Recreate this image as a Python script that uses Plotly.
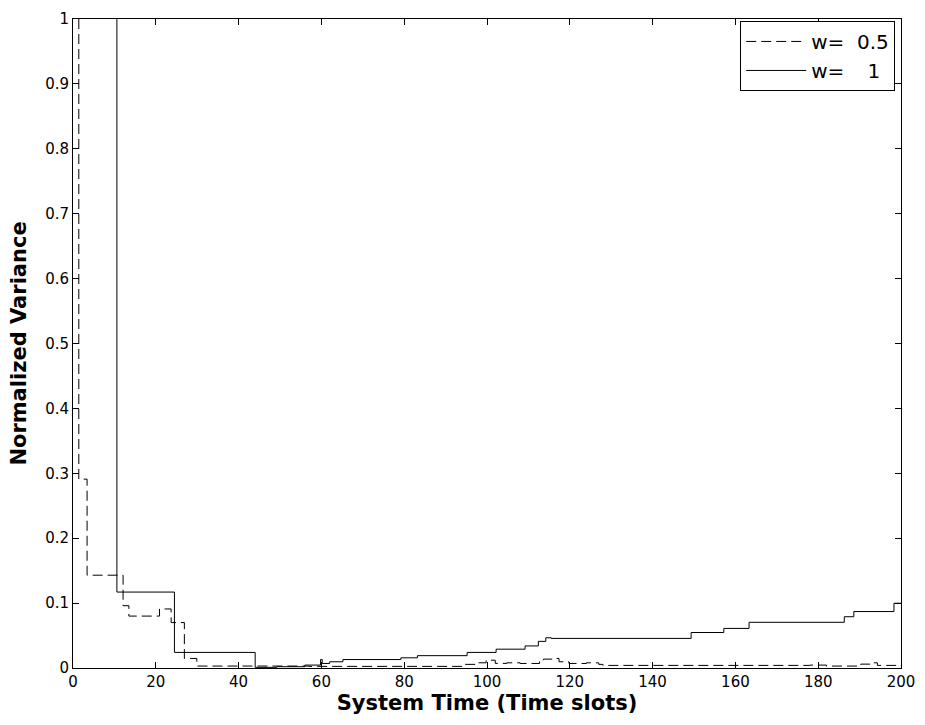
import plotly.graph_objects as go

# w = 0.5 (dashed) step series
x_w05 = [1.4, 1.4, 3.4, 12.1, 13.5, 20.9, 23.7, 26.9, 29.9, 57, 94.4, 97.6, 99.8, 102, 104.8,
         108, 112.7, 113.6, 116.2, 117.4, 119.8, 124, 127, 128, 178, 182, 190.3, 193.1, 194.3, 200]
y_w05 = [1.0, 0.291, 0.143, 0.096, 0.080, 0.091, 0.070, 0.0147, 0.003, 0.0025, 0.0056, 0.008, 0.012, 0.0071, 0.008,
         0.007, 0.011, 0.0137, 0.0147, 0.0096, 0.007, 0.008, 0.0056, 0.004, 0.0045, 0.003, 0.006, 0.008, 0.004, 0.003]

# w = 1 (solid) step series
x_w1 = [10.6, 10.6, 24.5, 44.0, 49.2, 56, 59.8, 60.2, 62, 65.2, 79.2, 83.2, 95.2, 102.2, 109.2, 112.4, 114.2, 115.5,
        149.3, 157.2, 163.3, 186.3, 188.6, 198.3, 200]
y_w1 = [1.0, 0.117, 0.024, 0.001, 0.002, 0.0045, 0.013, 0.007, 0.0096, 0.013, 0.0157, 0.019, 0.024, 0.029, 0.034, 0.041, 0.0466, 0.0456,
        0.0547, 0.061, 0.0704, 0.079, 0.087, 0.0998, 0.0998]

x_ticks = [0, 20, 40, 60, 80, 100, 120, 140, 160, 180, 200]
y_ticks = [0, 0.1, 0.2, 0.3, 0.4, 0.5, 0.6, 0.7, 0.8, 0.9, 1]
y_tick_labels = ["0", "0.1", "0.2", "0.3", "0.4", "0.5", "0.6", "0.7", "0.8", "0.9", "1"]

FONT = "DejaVu Sans, Liberation Sans, Arial, sans-serif"

fig = go.Figure()
fig.add_trace(go.Scatter(x=x_w05, y=y_w05, mode="lines", line_shape="hv",
                         line=dict(color="black", width=1, dash="10px,5px"),
                         name="w=\u00a0\u00a00.5"))
fig.add_trace(go.Scatter(x=x_w1, y=y_w1, mode="lines", line_shape="hv",
                         line=dict(color="black", width=1),
                         name="w=\u00a0\u00a0\u00a0\u20091"))

fig.update_layout(
    width=925, height=725,
    margin=dict(l=73, r=18, t=10, b=57),
    plot_bgcolor="white", paper_bgcolor="white",
    font=dict(family=FONT, color="black", size=15),
    showlegend=True,
    legend=dict(x=0.993, y=0.997, xanchor="right", yanchor="top",
                bordercolor="black", borderwidth=1, bgcolor="white",
                font=dict(size=20, family=FONT), itemwidth=60, tracegroupgap=0),
)
fig.update_xaxes(range=[0, 200], tickvals=x_ticks, ticks="inside", ticklen=6,
                 showline=True, linecolor="black", linewidth=1, mirror="ticks",
                 showgrid=False, zeroline=False, tickcolor="black",
                 tickfont=dict(size=15, family=FONT),
                 title=dict(text="<b>System Time (Time slots)</b>", font=dict(size=21, family=FONT), standoff=0))
fig.update_yaxes(range=[0, 1], tickvals=y_ticks, ticktext=y_tick_labels, ticks="inside", ticklen=6,
                 showline=True, linecolor="black", linewidth=1, mirror="ticks",
                 showgrid=False, zeroline=False, tickcolor="black",
                 tickfont=dict(size=15, family=FONT),
                 title=dict(text="<b>Normalized Variance</b>", font=dict(size=21, family=FONT), standoff=12))

fig.write_html("out.html")
